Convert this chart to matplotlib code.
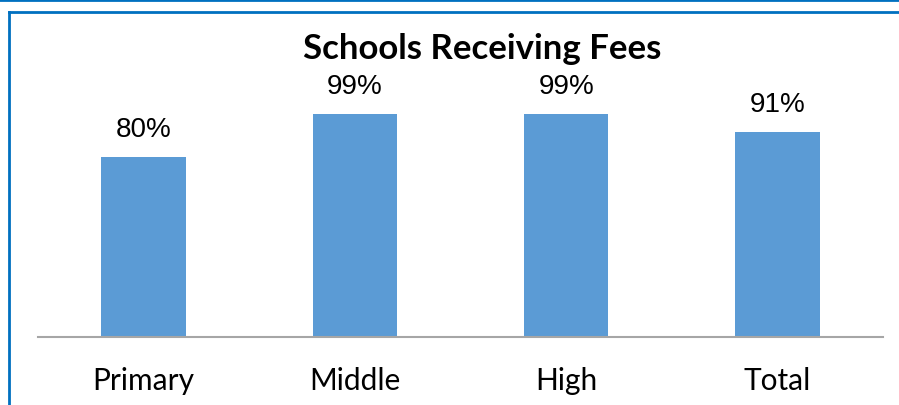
import matplotlib.pyplot as plt
from matplotlib.lines import Line2D

categories = ['Primary', 'Middle', 'High', 'Total']
values = [80, 99, 99, 91]

W, H = 899, 406
fig = plt.figure(figsize=(W / 100, H / 100), dpi=100)

# plot area in pixel terms
left, right, base, top = 38, 883, 338, 68
ax = fig.add_axes([left / W, (H - base) / H, (right - left) / W, (base - top) / H])

x = range(len(categories))
bars = ax.bar(x, values, width=0.4, color='#5B9BD5')
ax.set_xlim(-0.5, len(categories) - 0.5)
ax.set_ylim(0, 120)

for b, v in zip(bars, values):
    ax.annotate(f'{v}%', (b.get_x() + b.get_width() / 2, v), xytext=(0, 11),
                textcoords='offset points', ha='center', va='bottom',
                fontsize=20, family='Liberation Sans', color='#000000')

ax.set_xticks(list(x))
ax.set_xticklabels(categories, fontsize=21.5, family='Lato')
ax.tick_params(axis='x', length=0, pad=21)
ax.set_yticks([])
for s in ['top', 'right', 'left']:
    ax.spines[s].set_visible(False)
ax.spines['bottom'].set_color('#A6A6A6')
ax.spines['bottom'].set_linewidth(1.5)

fig.text(482 / W, 1 - 49 / H, 'Schools Receiving Fees', ha='center', va='center',
         fontsize=25, fontweight='bold', family='Lato')

# blue frame lines
blue = '#0070C0'
fig.add_artist(Line2D([0, 1], [1 - 1 / H, 1 - 1 / H], color=blue, lw=2, transform=fig.transFigure))
fig.add_artist(Line2D([8.5 / W, 1], [1 - 12.5 / H, 1 - 12.5 / H], color=blue, lw=2, transform=fig.transFigure))
fig.add_artist(Line2D([8.5 / W, 8.5 / W], [0, 1 - 12.5 / H], color=blue, lw=2, transform=fig.transFigure))

fig.savefig('out.png', dpi=100)
